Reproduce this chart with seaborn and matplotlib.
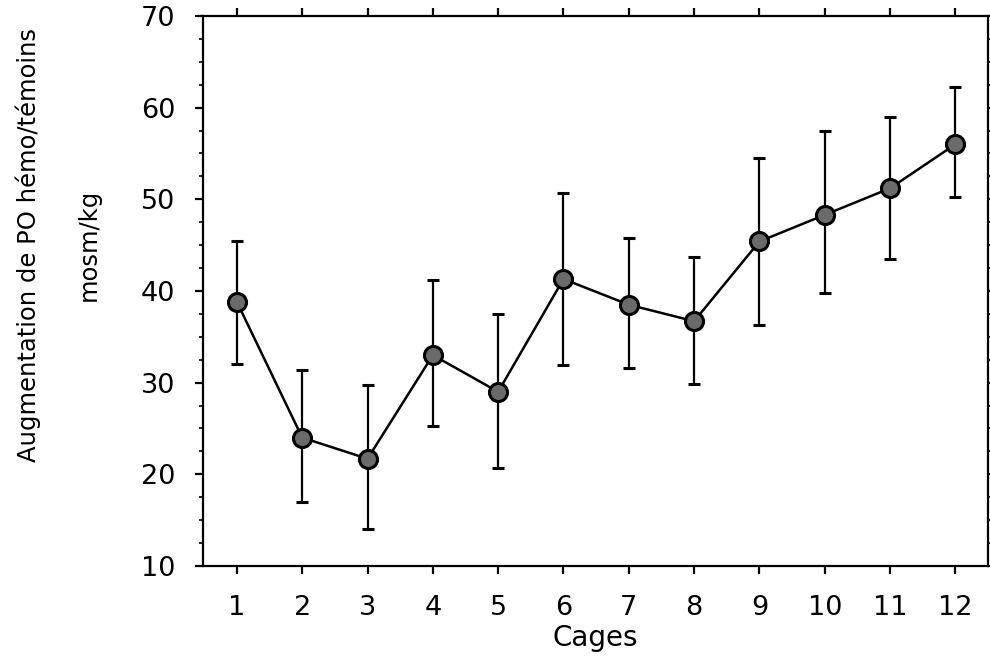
import numpy as np
import pandas as pd
import matplotlib
matplotlib.use("Agg")
import matplotlib.pyplot as plt
from matplotlib.ticker import MultipleLocator
import seaborn as sns

# values
cages = [1, 2, 3, 4, 5, 6, 7, 8, 9, 10, 11, 12]
means = [38.8, 24.0, 21.7, 33.0, 29.0, 41.3, 38.5, 36.7, 45.4, 48.3, 51.2, 56.0]
upper = [45.5, 31.4, 29.7, 41.2, 37.5, 50.7, 45.8, 43.7, 54.5, 57.4, 59.0, 62.3]
lower = [32.0, 17.0, 14.0, 25.3, 20.7, 31.9, 31.6, 29.9, 36.3, 39.8, 43.5, 50.2]

df = pd.DataFrame({"cage": cages, "mean": means, "upper": upper, "lower": lower})

sns.set_style("ticks")
plt.rcParams["font.family"] = ["DejaVu Sans"]
plt.rcParams["axes.labelcolor"] = "black"
plt.rcParams["text.color"] = "black"

fig = plt.figure(figsize=(9.9, 6.64), dpi=100)
ax = fig.add_axes([0.205, 0.1476, 0.793, 0.8284])

# error bars first, so the markers sit on top
ax.errorbar(df["cage"], df["mean"],
            yerr=[df["mean"] - df["lower"], df["upper"] - df["mean"]],
            fmt="none", ecolor="black", elinewidth=1.6, capsize=4.5,
            capthick=2.2, zorder=2)

sns.lineplot(data=df, x="cage", y="mean", ax=ax, color="black", linewidth=1.8,
             marker="o", markersize=13, markerfacecolor="#6a6a6a",
             markeredgecolor="black", markeredgewidth=2.2, zorder=3)

ax.set_xlim(0.48, 12.5)
ax.set_ylim(10, 70)
ax.set_xticks(cages)
ax.yaxis.set_major_locator(MultipleLocator(10))
ax.yaxis.set_minor_locator(MultipleLocator(2.5))

for side in ["left", "right", "top", "bottom"]:
    ax.spines[side].set_visible(True)
    ax.spines[side].set_linewidth(1.6)
    ax.spines[side].set_color("black")

ax.tick_params(axis="both", which="major", direction="out", length=6,
               width=1.6, labelsize=19.5, colors="black")
ax.tick_params(axis="y", which="major", pad=14)
ax.tick_params(axis="x", which="major", pad=15)
ax.tick_params(axis="y", which="minor", direction="out", length=3, width=1.2,
               colors="black")
ax.tick_params(top=True, right=True, which="both")
ax.yaxis.set_tick_params(which="both", labelright=False)

ax.set_xlabel("Cages", fontsize=20, labelpad=2)
ax.set_ylabel("Augmentation de PO hémo/témoins\nmosm/kg", fontsize=17.5,
              linespacing=2.9)
ax.yaxis.set_label_coords(-0.13, 0.584)

fig.savefig("out.png", dpi=100)
